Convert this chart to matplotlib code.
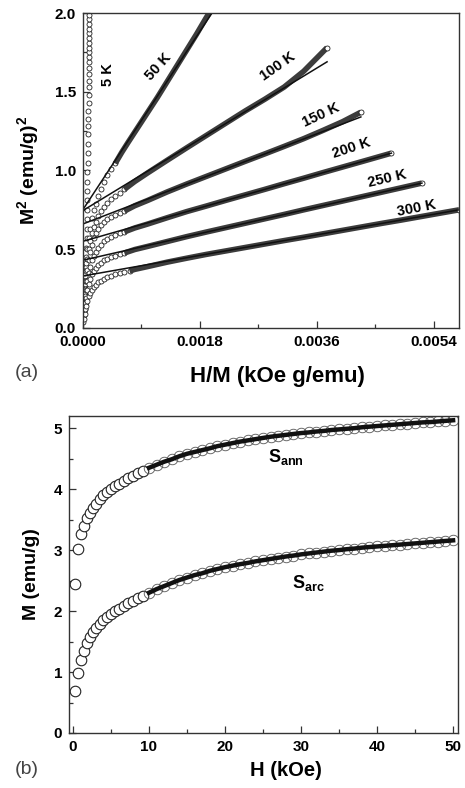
import matplotlib
matplotlib.use("Agg")
import matplotlib.pyplot as plt
from matplotlib.ticker import MultipleLocator, FormatStrFormatter

plt.rcParams['font.family'] = ['Liberation Sans', 'DejaVu Sans']
plt.rcParams['font.weight'] = 'bold'
plt.rcParams['mathtext.fontset'] = 'custom'
plt.rcParams['mathtext.rm'] = 'Liberation Sans:bold'
plt.rcParams['mathtext.bf'] = 'Liberation Sans:bold'
plt.rcParams['mathtext.it'] = 'Liberation Sans:bold'

# ---------------- panel (a): Arrott plots, M^2 vs H/M ----------------
# 5 K: almost vertical column near H/M = 0
hm_5 = [0.00001, 0.00002, 0.00003, 0.00003, 0.00004, 0.00004, 0.00005, 0.00005, 0.00005, 0.00006,
        0.00006, 0.00006, 0.00007, 0.00007, 0.00007, 0.00007, 0.00007, 0.00008, 0.00008, 0.00008,
        0.00008, 0.00008, 0.00008, 0.00008, 0.00009, 0.00009, 0.00009, 0.00009, 0.00009, 0.00009,
        0.00009, 0.00010, 0.00010, 0.00010, 0.00010, 0.00010, 0.00010, 0.00010, 0.00010, 0.00010, 0.00010]
m2_5 = [0.04, 0.09, 0.15, 0.21, 0.27, 0.33, 0.39, 0.45, 0.51, 0.57,
        0.63, 0.69, 0.75, 0.81, 0.87, 0.93, 0.99, 1.05, 1.11, 1.17,
        1.23, 1.28, 1.33, 1.38, 1.43, 1.48, 1.53, 1.57, 1.61, 1.65,
        1.69, 1.72, 1.75, 1.78, 1.81, 1.84, 1.87, 1.90, 1.93, 1.96, 1.99]

# low field (knee) points, shown as separate circles
hm_50_low = [0.00002, 0.00003, 0.00004, 0.00005, 0.00007, 0.00009, 0.00011, 0.00014,
             0.00017, 0.00020, 0.00024, 0.00028, 0.00033, 0.00038, 0.00044, 0.00050]
m2_50_low = [0.20, 0.28, 0.35, 0.41, 0.50, 0.57, 0.63, 0.70, 0.75, 0.79, 0.84, 0.88, 0.93, 0.97, 1.01, 1.045]
hm_100_low = [0.00002, 0.00003, 0.00004, 0.00005, 0.00007, 0.00009, 0.00011, 0.00014, 0.00017,
              0.00020, 0.00024, 0.00028, 0.00033, 0.00038, 0.00044, 0.00050, 0.00057, 0.00064]
m2_100_low = [0.16, 0.23, 0.30, 0.36, 0.44, 0.50, 0.55, 0.60, 0.64, 0.67, 0.71, 0.74, 0.77, 0.795,
              0.82, 0.84, 0.86, 0.88]
hm_150_low = [0.00002, 0.00003, 0.00004, 0.00005, 0.00007, 0.00009, 0.00011, 0.00014, 0.00017,
              0.00020, 0.00024, 0.00028, 0.00033, 0.00038, 0.00044, 0.00050, 0.00057, 0.00064]
m2_150_low = [0.13, 0.19, 0.25, 0.30, 0.37, 0.43, 0.48, 0.53, 0.57, 0.60, 0.63, 0.655, 0.675, 0.69,
              0.705, 0.718, 0.73, 0.742]
hm_200_low = [0.00002, 0.00003, 0.00004, 0.00005, 0.00007, 0.00009, 0.00011, 0.00014, 0.00017,
              0.00020, 0.00024, 0.00028, 0.00033, 0.00038, 0.00044, 0.00050, 0.00057, 0.00064]
m2_200_low = [0.10, 0.15, 0.20, 0.24, 0.30, 0.35, 0.39, 0.43, 0.46, 0.485, 0.51, 0.53, 0.55, 0.565,
              0.578, 0.59, 0.60, 0.61]
hm_250_low = [0.00002, 0.00003, 0.00004, 0.00005, 0.00007, 0.00009, 0.00011, 0.00014, 0.00017,
              0.00020, 0.00024, 0.00028, 0.00033, 0.00038, 0.00044, 0.00050, 0.00057, 0.00064]
m2_250_low = [0.08, 0.12, 0.16, 0.19, 0.24, 0.28, 0.31, 0.34, 0.36, 0.38, 0.40, 0.415, 0.43, 0.44,
              0.45, 0.46, 0.468, 0.476]
hm_300_low = [0.00002, 0.00003, 0.00004, 0.00005, 0.00007, 0.00009, 0.00011, 0.00014, 0.00017, 0.00020,
              0.00024, 0.00028, 0.00033, 0.00038, 0.00044, 0.00050, 0.00057, 0.00064, 0.00072]
m2_300_low = [0.06, 0.09, 0.12, 0.14, 0.17, 0.20, 0.22, 0.24, 0.26, 0.275, 0.29, 0.30, 0.312, 0.322,
              0.332, 0.34, 0.348, 0.355, 0.362]

# high field points, so dense they merge into a band
hm_50_high = [0.0006, 0.0007, 0.00085, 0.0010, 0.00115, 0.0013, 0.00145, 0.0016, 0.00175, 0.0019, 0.0021]
m2_50_high = [1.115, 1.18, 1.275, 1.37, 1.465, 1.565, 1.665, 1.765, 1.865, 1.97, 2.10]
hm_100_high = [0.0008, 0.0010, 0.0013, 0.0016, 0.0019, 0.0022, 0.0025, 0.0028, 0.0031, 0.0034, 0.00376]
m2_100_high = [0.93, 0.985, 1.065, 1.144, 1.222, 1.30, 1.378, 1.452, 1.53, 1.63, 1.78]
hm_150_high = [0.0008, 0.0010, 0.0013, 0.0016, 0.0019, 0.0022, 0.0025, 0.0028, 0.0031, 0.0034,
               0.0037, 0.0040, 0.00428]
m2_150_high = [0.776, 0.81, 0.864, 0.914, 0.962, 1.01, 1.058, 1.105, 1.153, 1.202, 1.255, 1.31, 1.37]
hm_200_high = [0.0008, 0.0010, 0.0013, 0.0016, 0.0019, 0.0022, 0.0025, 0.0028, 0.0031, 0.0034,
               0.0037, 0.0040, 0.0043, 0.00475]
m2_200_high = [0.635, 0.66, 0.70, 0.739, 0.774, 0.81, 0.845, 0.88, 0.916, 0.951, 0.987, 1.022, 1.057, 1.11]
hm_250_high = [0.0008, 0.0010, 0.0013, 0.0016, 0.0019, 0.0022, 0.0025, 0.0028, 0.0031, 0.0034,
               0.0037, 0.0040, 0.0043, 0.0046, 0.0049, 0.00522]
m2_250_high = [0.498, 0.518, 0.549, 0.58, 0.609, 0.637, 0.665, 0.693, 0.721, 0.75,
               0.778, 0.806, 0.834, 0.862, 0.89, 0.92]
hm_300_high = [0.0008, 0.0010, 0.0013, 0.0016, 0.0019, 0.0022, 0.0025, 0.0028, 0.0031, 0.0034,
               0.0037, 0.0040, 0.0043, 0.0046, 0.0049, 0.0052, 0.0055, 0.00579]
m2_300_high = [0.372, 0.39, 0.418, 0.443, 0.467, 0.489, 0.511, 0.533, 0.555, 0.576,
               0.598, 0.62, 0.642, 0.664, 0.685, 0.707, 0.729, 0.75]

# linear fits: (0, y0) -> (x1, y1)
fit_y0 = [0.75, 0.745, 0.66, 0.55, 0.43, 0.33]
fit_x1 = [0.0021, 0.00376, 0.00428, 0.00475, 0.00522, 0.00579]
fit_y1 = [2.07, 1.69, 1.34, 1.11, 0.92, 0.75]

temp_labels = ['5 K', '50 K', '100 K', '150 K', '200 K', '250 K', '300 K']
temp_lab_x = [0.00039, 0.00116, 0.0030, 0.00367, 0.00414, 0.00468, 0.00513]
temp_lab_y = [1.61, 1.66, 1.66, 1.35, 1.14, 0.946, 0.76]
temp_lab_rot = [90, 48, 35, 25, 18, 13, 11]

# ---------------- panel (b): M vs H ----------------
h_ann_low = [0.3, 0.65, 1.05, 1.45, 1.85, 2.25, 2.65, 3.05, 3.5, 3.95, 4.45, 4.95, 5.5, 6.05, 6.65, 7.25, 7.9, 8.55, 9.25]
m_ann_low = [2.44, 3.02, 3.26, 3.40, 3.52, 3.61, 3.69, 3.76, 3.84, 3.90, 3.95, 4.00, 4.05, 4.09, 4.14, 4.18, 4.22, 4.26, 4.30]
h_arc_low = [0.3, 0.65, 1.05, 1.45, 1.85, 2.25, 2.65, 3.05, 3.5, 3.95, 4.45, 4.95, 5.5, 6.05, 6.65, 7.25, 7.9, 8.55, 9.25]
m_arc_low = [0.69, 0.99, 1.19, 1.35, 1.47, 1.57, 1.66, 1.73, 1.79, 1.85, 1.90, 1.95, 2.00, 2.04, 2.09, 2.13, 2.17, 2.21, 2.25]

h_high = list(range(10, 51))
m_ann_high = [4.35, 4.40, 4.45, 4.49, 4.54, 4.58, 4.61, 4.64, 4.67, 4.705,
              4.73, 4.755, 4.78, 4.80, 4.82, 4.84, 4.86, 4.875, 4.89, 4.905,
              4.92, 4.93, 4.945, 4.955, 4.97, 4.98, 4.99, 5.00, 5.015, 5.025,
              5.035, 5.045, 5.055, 5.065, 5.075, 5.085, 5.095, 5.10, 5.11, 5.12, 5.13]
m_arc_high = [2.30, 2.36, 2.41, 2.46, 2.51, 2.55, 2.59, 2.62, 2.66, 2.69,
              2.72, 2.745, 2.77, 2.79, 2.815, 2.835, 2.855, 2.875, 2.895, 2.91,
              2.93, 2.945, 2.96, 2.975, 2.99, 3.00, 3.015, 3.025, 3.04, 3.05,
              3.06, 3.07, 3.08, 3.09, 3.10, 3.11, 3.12, 3.13, 3.14, 3.15, 3.16]


fig = plt.figure(figsize=(4.65, 7.88), dpi=100)
ax1 = fig.add_axes([0.178, 0.5838, 0.809, 0.3997])
ax2 = fig.add_axes([0.1484, 0.0698, 0.8366, 0.4023])

spine_col = '#333333'
mk = dict(ms=3.6, mfc='white', mec='#222222', mew=0.6)

# panel (a)
ax1.plot(hm_5, m2_5, 'o', **mk)

lows = [(hm_50_low, m2_50_low), (hm_100_low, m2_100_low), (hm_150_low, m2_150_low),
        (hm_200_low, m2_200_low), (hm_250_low, m2_250_low), (hm_300_low, m2_300_low)]
highs = [(hm_50_high, m2_50_high), (hm_100_high, m2_100_high), (hm_150_high, m2_150_high),
         (hm_200_high, m2_200_high), (hm_250_high, m2_250_high), (hm_300_high, m2_300_high)]

for (xl, yl), (xh, yh) in zip(lows, highs):
    ax1.plot(xl, yl, 'o', **mk)
    ax1.plot([xl[-1]] + xh, [yl[-1]] + yh, '-', color='#3c3c3c', lw=4.0, solid_capstyle='butt')
    ax1.plot(xh[-1], yh[-1], 'o', **mk)

for y0, x1, y1 in zip(fit_y0, fit_x1, fit_y1):
    ax1.plot([0, x1], [y0, y1], '-', color='#111111', lw=1.1)

for t, x, y, r in zip(temp_labels, temp_lab_x, temp_lab_y, temp_lab_rot):
    ax1.text(x, y, t, rotation=r, ha='center', va='center', fontsize=10.5, fontweight='bold',
             rotation_mode='anchor')

ax1.set_xlim(0, 0.00579)
ax1.set_ylim(0, 2.0)
ax1.xaxis.set_major_locator(MultipleLocator(0.0018))
ax1.xaxis.set_minor_locator(MultipleLocator(0.0009))
ax1.xaxis.set_major_formatter(FormatStrFormatter('%.4f'))
ax1.yaxis.set_major_locator(MultipleLocator(0.5))
ax1.yaxis.set_minor_locator(MultipleLocator(0.25))
ax1.yaxis.set_major_formatter(FormatStrFormatter('%.1f'))
ax1.set_xlabel('H/M (kOe g/emu)', fontsize=16, fontweight='bold')
ax1.xaxis.set_label_coords(0.518, -0.12)
ax1.set_ylabel(r'M$^{\mathbf{2}}$ (emu/g)$^{\mathbf{2}}$', fontsize=14, fontweight='bold', labelpad=10)

# panel (b)
ax2.plot(h_ann_low, m_ann_low, 'o', ms=7.6, mfc='white', mec='#222222', mew=0.8)
ax2.plot(h_arc_low, m_arc_low, 'o', ms=7.6, mfc='white', mec='#222222', mew=0.8)
ax2.plot(h_high, m_ann_high, 'o', ms=7.6, mfc='none', mec='#555555', mew=0.6)
ax2.plot(h_high, m_arc_high, 'o', ms=7.6, mfc='none', mec='#555555', mew=0.6)
ax2.plot(h_high, m_ann_high, '-', color='#111111', lw=3.2)
ax2.plot(h_high, m_arc_high, '-', color='#111111', lw=3.2)

ax2.text(25.6, 4.52, r'$\mathbf{S}_{\mathbf{ann}}$', fontsize=13, ha='left', va='center')
ax2.text(28.8, 2.46, r'$\mathbf{S}_{\mathbf{arc}}$', fontsize=13, ha='left', va='center')

ax2.set_xlim(-0.52, 50.65)
ax2.set_ylim(0, 5.2)
ax2.xaxis.set_major_locator(MultipleLocator(10))
ax2.xaxis.set_minor_locator(MultipleLocator(5))
ax2.yaxis.set_major_locator(MultipleLocator(1))
ax2.yaxis.set_minor_locator(MultipleLocator(0.5))
ax2.set_xlabel('H (kOe)', fontsize=14.5, fontweight='bold')
ax2.xaxis.set_label_coords(0.557, -0.088)
ax2.set_ylabel('M (emu/g)', fontsize=14, fontweight='bold', labelpad=10)

for ax in (ax1, ax2):
    for s in ax.spines.values():
        s.set_color(spine_col)
        s.set_linewidth(1.0)
    ax.tick_params(which='both', direction='in', top=False, right=False, colors=spine_col,
                   labelcolor='black', labelsize=11, width=0.9)
    ax.tick_params(which='major', length=5, pad=5)
    ax.tick_params(which='minor', length=3)
    for lab in ax.get_xticklabels() + ax.get_yticklabels():
        lab.set_fontweight('bold')

fig.text(0.032, 0.527, '(a)', fontsize=14, fontweight='normal', color='#444444', va='center')
fig.text(0.032, 0.023, '(b)', fontsize=14, fontweight='normal', color='#444444', va='center')

fig.savefig('out.png', dpi=100)
